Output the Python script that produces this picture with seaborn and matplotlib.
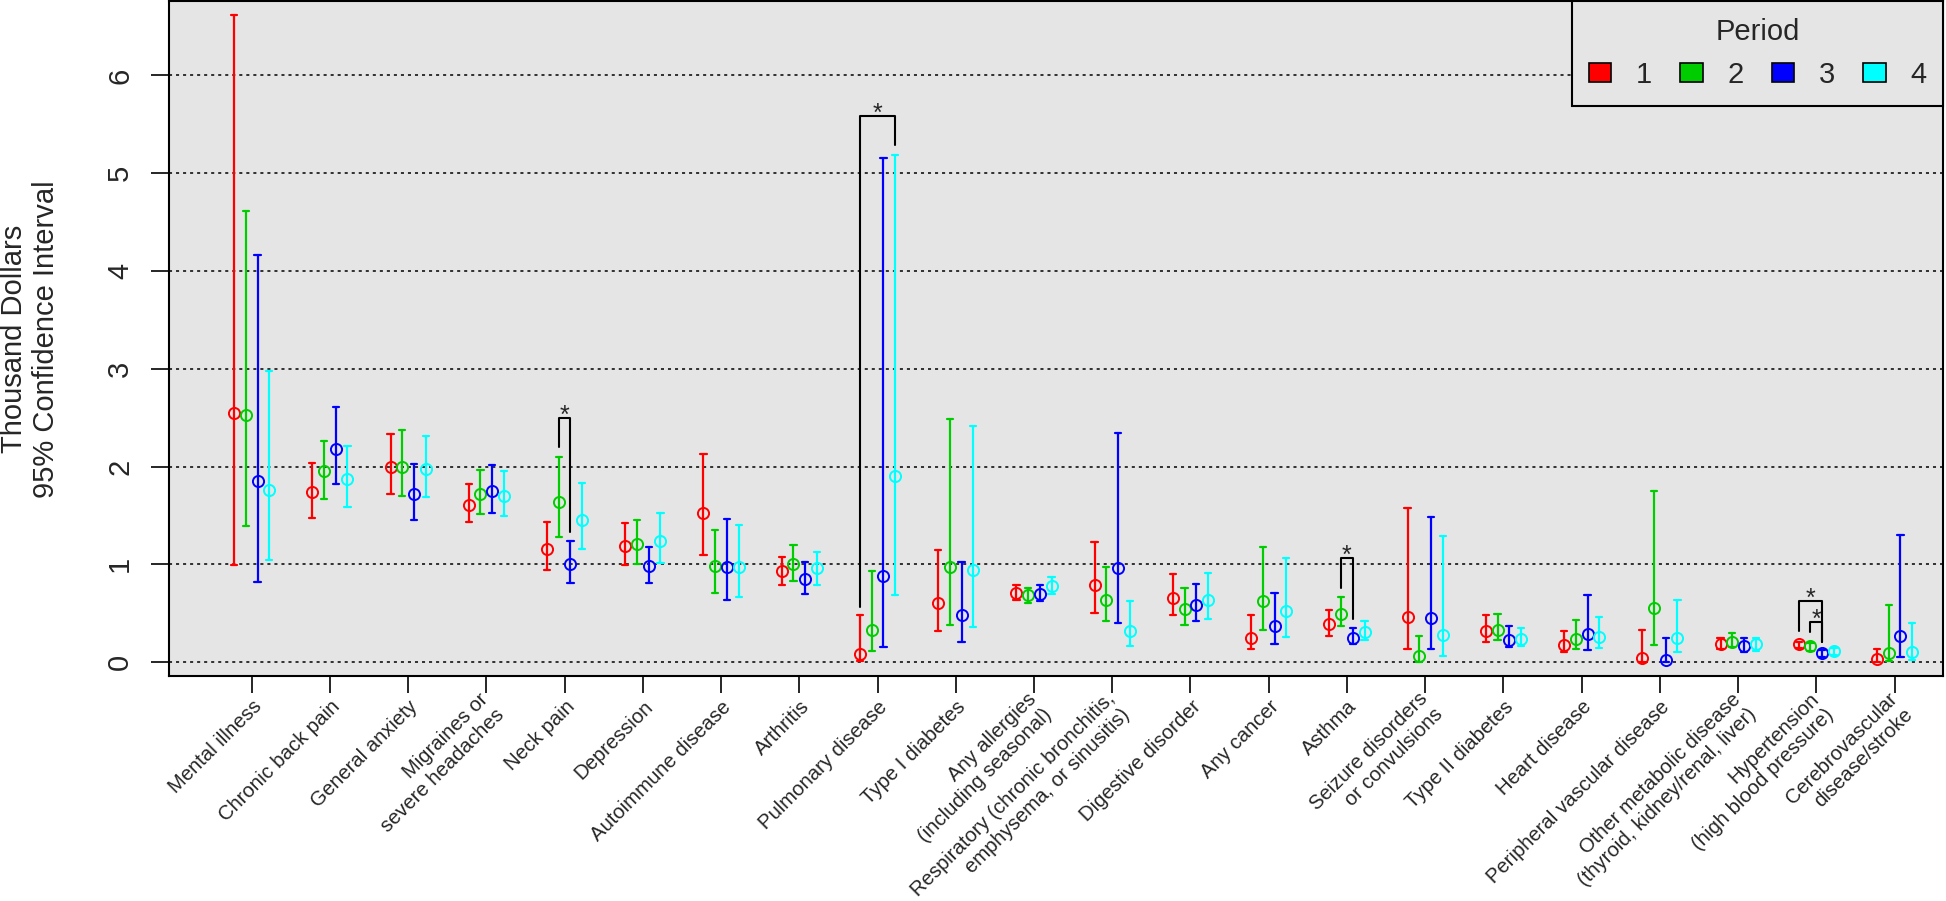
import matplotlib.pyplot as plt
import matplotlib.transforms as mtransforms
from matplotlib.patches import Patch
import numpy as np
import pandas as pd
import seaborn as sns

sns.set_style('ticks')
plt.rcParams['font.family'] = ['Liberation Sans', 'DejaVu Sans']

conditions = ['Mental illness', 'Chronic back pain', 'General anxiety',
              'Migraines or\nsevere headaches', 'Neck pain', 'Depression',
              'Autoimmune disease', 'Arthritis', 'Pulmonary disease', 'Type I diabetes',
              'Any allergies\n(including seasonal)',
              'Respiratory (chronic bronchitis,\nemphysema, or sinusitis)',
              'Digestive disorder', 'Any cancer', 'Asthma',
              'Seizure disorders\nor convulsions', 'Type II diabetes', 'Heart disease',
              'Peripheral vascular disease',
              'Other metabolic disease\n(thyroid, kidney/renal, liver)',
              'Hypertension\n(high blood pressure)', 'Cerebrovascular\ndisease/stroke']
periods = ['1', '2', '3', '4']
period_colors = ['#FF0000', '#00CD00', '#0000FF', '#00FFFF']

# estimate and 95% CI bounds (thousand dollars), one list per period
mid_p1 = [2.55, 1.74, 2.00, 1.61, 1.16, 1.19, 1.53, 0.93, 0.08, 0.60, 0.71, 0.79, 0.66, 0.25, 0.39, 0.46, 0.32, 0.17, 0.04, 0.19, 0.18, 0.03]
lo_p1 = [0.99, 1.47, 1.72, 1.43, 0.94, 0.99, 1.10, 0.79, 0.01, 0.32, 0.64, 0.50, 0.48, 0.13, 0.27, 0.13, 0.21, 0.10, 0.00, 0.13, 0.14, 0.00]
hi_p1 = [6.62, 2.04, 2.33, 1.82, 1.43, 1.42, 2.13, 1.08, 0.48, 1.15, 0.79, 1.23, 0.90, 0.48, 0.53, 1.58, 0.48, 0.32, 0.33, 0.25, 0.21, 0.13]

mid_p2 = [2.53, 1.95, 2.00, 1.72, 1.64, 1.21, 0.98, 1.00, 0.33, 0.97, 0.69, 0.64, 0.54, 0.62, 0.49, 0.06, 0.33, 0.24, 0.55, 0.21, 0.16, 0.09]
lo_p2 = [1.39, 1.67, 1.70, 1.51, 1.28, 1.00, 0.71, 0.83, 0.11, 0.38, 0.60, 0.42, 0.38, 0.33, 0.37, 0.00, 0.23, 0.13, 0.17, 0.15, 0.11, 0.01]
hi_p2 = [4.61, 2.26, 2.37, 1.96, 2.10, 1.45, 1.35, 1.20, 0.93, 2.49, 0.76, 0.97, 0.76, 1.18, 0.67, 0.27, 0.49, 0.43, 1.75, 0.30, 0.20, 0.58]

mid_p3 = [1.85, 2.18, 1.72, 1.75, 1.00, 0.98, 0.97, 0.85, 0.88, 0.48, 0.70, 0.96, 0.58, 0.37, 0.25, 0.45, 0.23, 0.29, 0.02, 0.16, 0.09, 0.27]
lo_p3 = [0.82, 1.82, 1.45, 1.53, 0.81, 0.81, 0.64, 0.70, 0.15, 0.21, 0.63, 0.40, 0.42, 0.19, 0.18, 0.13, 0.15, 0.12, 0.00, 0.10, 0.05, 0.05]
hi_p3 = [4.16, 2.61, 2.03, 2.02, 1.24, 1.18, 1.46, 1.02, 5.16, 1.02, 0.79, 2.34, 0.80, 0.71, 0.35, 1.48, 0.37, 0.69, 0.25, 0.25, 0.12, 1.30]

mid_p4 = [1.76, 1.87, 1.97, 1.70, 1.45, 1.24, 0.97, 0.96, 1.90, 0.94, 0.78, 0.32, 0.64, 0.52, 0.31, 0.28, 0.24, 0.26, 0.25, 0.18, 0.11, 0.10]
lo_p4 = [1.04, 1.59, 1.69, 1.49, 1.16, 1.01, 0.67, 0.79, 0.69, 0.36, 0.70, 0.16, 0.44, 0.26, 0.23, 0.06, 0.16, 0.14, 0.10, 0.11, 0.07, 0.02]
hi_p4 = [2.98, 2.21, 2.31, 1.95, 1.83, 1.53, 1.40, 1.13, 5.19, 2.41, 0.87, 0.63, 0.91, 1.06, 0.42, 1.29, 0.35, 0.46, 0.64, 0.25, 0.14, 0.40]

# significance brackets: condition index, left/right period index, leg ends and top
br_cond = [4, 8, 14, 20, 20]
br_left = [1, 0, 1, 0, 1]
br_right = [2, 3, 2, 2, 2]
br_left_y = [2.20, 0.56, 0.76, 0.32, 0.31]
br_top_y = [2.50, 5.59, 1.06, 0.63, 0.41]
br_right_y = [1.33, 5.29, 0.44, 0.21, 0.21]

# long table: each CI as three rows (lo, estimate, hi)
rows = []
series = [(lo_p1, mid_p1, hi_p1), (lo_p2, mid_p2, hi_p2),
          (lo_p3, mid_p3, hi_p3), (lo_p4, mid_p4, hi_p4)]
for p, (lo, mid, hi) in zip(periods, series):
    for c, a, b, d in zip(conditions, lo, mid, hi):
        for v in (a, b, d):
            rows.append({'condition': c, 'period': p, 'value': v})
df = pd.DataFrame(rows)

fig = plt.figure(figsize=(19.46, 9.01), dpi=100)
ax = fig.add_axes([0.0867, 0.2492, 0.9120, 0.7495])
ax.set_facecolor('#E5E5E5')

dodge = 0.45
sns.pointplot(data=df, x='condition', y='value', hue='period', order=conditions,
              hue_order=periods, palette=dict(zip(periods, period_colors)),
              estimator='median', errorbar=lambda v: (v.min(), v.max()),
              dodge=dodge, linestyle='none', markers='o', capsize=0.08,
              err_kws={'linewidth': 1.6}, markersize=8, markeredgewidth=1.4,
              markerfacecolor='none', legend=False, ax=ax)

# brackets with stars
offsets = np.linspace(-dodge / 2, dodge / 2, len(periods))
for g, l, r, yl, yt, yr in zip(br_cond, br_left, br_right, br_left_y, br_top_y, br_right_y):
    xl = g + offsets[l]
    xr = g + offsets[r]
    ax.plot([xl, xl, xr, xr], [yl, yt, yt, yr], color='black', lw=1.5, zorder=3)
    ax.text((xl + xr) / 2, yt - 0.05, '*', ha='center', va='baseline', fontsize=18)

ax.set_xlim(-1.06, 21.625)
ax.set_ylim(-0.147, 6.76)
ax.set_yticks(range(0, 7))
ax.set_yticklabels([str(v) for v in range(0, 7)], fontsize=21)
ax.set_xticks(range(len(conditions)))
ax.set_xticklabels(conditions, fontsize=14.6, rotation=45, ha='right', va='center',
                   rotation_mode='anchor', linespacing=1.2)
ax.yaxis.grid(True, color='black', linestyle=(0, (2, 2.6)), linewidth=1.1)
ax.xaxis.grid(False)
ax.set_axisbelow(True)

for lbl in ax.get_yticklabels():
    lbl.set_rotation(90)
    lbl.set_ha('center')
    lbl.set_va('center')
ax.tick_params(axis='y', length=13, width=1.4, pad=22)
ax.tick_params(axis='x', length=12.2, width=1.4, pad=7.5)
shift = mtransforms.ScaledTranslation(7 / 100, 0, fig.dpi_scale_trans)
for lbl in ax.get_xticklabels():
    lbl.set_transform(lbl.get_transform() + shift)

for s in ax.spines.values():
    s.set_visible(True)
    s.set_color('black')
    s.set_linewidth(1.5)

ax.set_xlabel('')
ax.set_ylabel('')
fig.text(30 / 1946, 1 - 339 / 901, 'Thousand Dollars\n95% Confidence Interval',
         rotation=90, ha='center', va='center', multialignment='center',
         fontsize=21, linespacing=1.15)

handles = [Patch(facecolor=c, edgecolor='black', linewidth=1.2, label=p)
           for p, c in zip(periods, period_colors)]
leg = ax.legend(handles=handles, title='Period', ncol=4, loc='upper right',
                borderaxespad=0, fontsize=21, title_fontsize=21, fancybox=False,
                facecolor='#E5E5E5', edgecolor='black', framealpha=1,
                handlelength=0.76, handleheight=0.62, handletextpad=0.85,
                columnspacing=0.97, borderpad=0.58)
leg.get_frame().set_linewidth(1.5)

fig.savefig('out.png', dpi=100)
